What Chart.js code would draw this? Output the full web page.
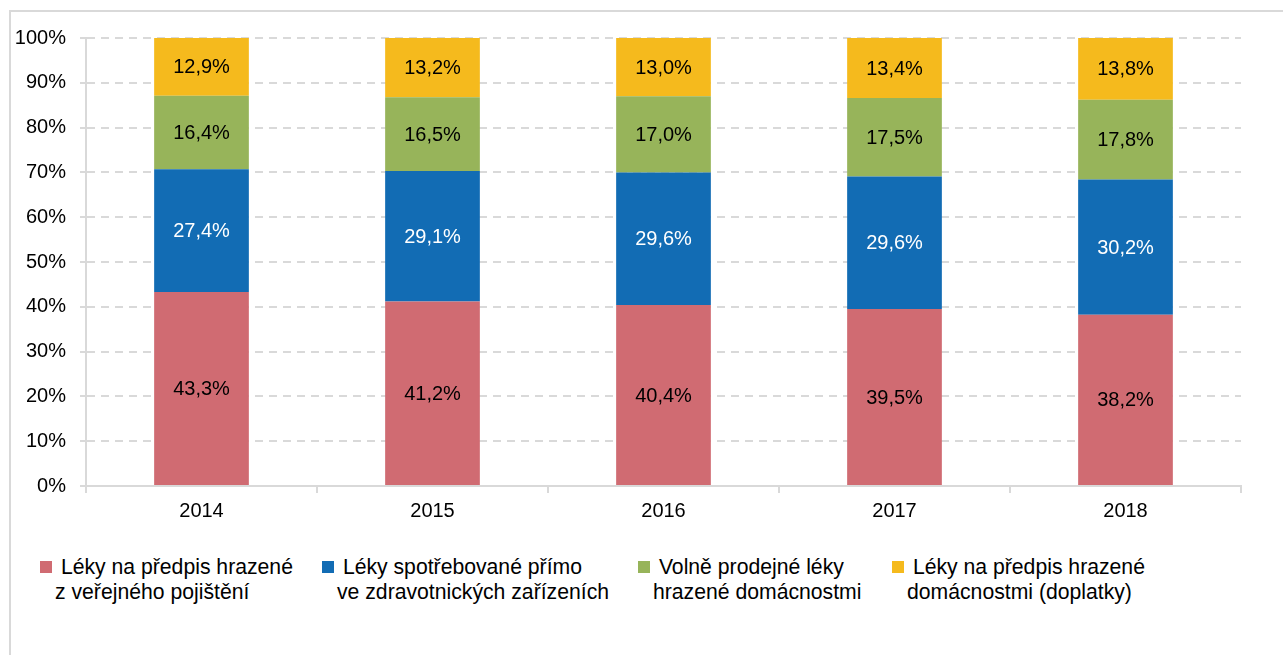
<!DOCTYPE html>
<html lang="cs">
<head>
<meta charset="utf-8">
<script src="https://cdn.jsdelivr.net/npm/chart.js@4"></script>
<style>
    body { margin: 0; background: #fff; font-family: "Liberation Sans", Arial, sans-serif; }
    #wrap { position: relative; width: 1283px; height: 655px; overflow: hidden; }
    #frame { position: absolute; left: 9px; top: 10px; width: 1320px; height: 700px; border: 2px solid #d9d9d9; }
    #chartBox { position: absolute; left: 0; top: 0; width: 1283px; height: 530px; }
    #legend { position: absolute; left: 0; top: 554px; width: 1283px; height: 60px; font-size: 21.2px; color: #000; }
    .item { position: absolute; top: 0; padding-left: 15px; line-height: 25px; white-space: nowrap; }
    .item:nth-child(1) { left: 40px; }
    .item:nth-child(2) { left: 322px; }
    .item:nth-child(3) { left: 638px; }
    .item:nth-child(4) { left: 892px; }
    .box { position: absolute; left: 0; top: 7px; width: 12px; height: 12px; }
</style>
</head>
<body>
<div id="wrap">
    <div id="frame"></div>
    <div id="chartBox"><canvas id="podilChart"></canvas></div>
    <div id="legend"></div>
</div>
<script>
const years = ["2014", "2015", "2016", "2017", "2018"];

const seriesNames = [
    ["Léky na předpis hrazené", "z veřejného pojištění"],
    ["Léky spotřebované přímo", "ve zdravotnických zařízeních"],
    ["Volně prodejné léky", "hrazené domácnostmi"],
    ["Léky na předpis hrazené", "domácnostmi (doplatky)"]
];

const verejnePojisteni = [43.3, 41.2, 40.4, 39.5, 38.2];
const zdravotnickaZarizeni = [27.4, 29.1, 29.6, 29.6, 30.2];
const volneProdejne = [16.4, 16.5, 17.0, 17.5, 17.8];
const doplatky = [12.9, 13.2, 13.0, 13.4, 13.8];

const colors = ["#d06b72", "#126cb4", "#97b45a", "#f5ba1d"];
const labelColors = ["#000", "#fff", "#000", "#000"];

const allSeries = [verejnePojisteni, zdravotnickaZarizeni, volneProdejne, doplatky];

// popisky hodnot uprostred segmentu
const valueLabels = {
    id: "valueLabels",
    afterDatasetsDraw(chart) {
        const ctx = chart.ctx;
        ctx.save();
        ctx.font = '20px "Liberation Sans", Arial, sans-serif';
        ctx.textAlign = "center";
        ctx.textBaseline = "middle";
        chart.data.datasets.forEach((ds, i) => {
            const meta = chart.getDatasetMeta(i);
            meta.data.forEach((bar, j) => {
                const p = bar.getProps(["x", "y", "base"], true);
                ctx.fillStyle = labelColors[i];
                const txt = ds.data[j].toFixed(1).replace(".", ",") + "%";
                ctx.fillText(txt, p.x, (p.y + p.base) / 2 + 1);
            });
        });
        ctx.restore();
    }
};

const ctx = document.getElementById("podilChart").getContext("2d");
new Chart(ctx, {
    type: "bar",
    data: {
        labels: years,
        datasets: allSeries.map((vals, i) => ({
            label: seriesNames[i].join(" "),
            data: vals,
            backgroundColor: colors[i],
            borderWidth: 0,
            barPercentage: 0.41,
            categoryPercentage: 1
        }))
    },
    options: {
        responsive: true,
        maintainAspectRatio: false,
        animation: false,
        layout: { padding: { top: 38, right: 42, left: 0, bottom: 0 } },
        plugins: {
            legend: { display: false },
            tooltip: { enabled: false }
        },
        scales: {
            x: {
                stacked: true,
                grid: { drawOnChartArea: false, color: "#d9d9d9", lineWidth: 2, tickLength: 7 },
                border: { color: "#d9d9d9", width: 2 },
                ticks: { color: "#000", padding: 6, font: { size: 20, family: '"Liberation Sans", Arial, sans-serif' } },
                afterFit(scale) { scale.height = 44; }
            },
            y: {
                stacked: true,
                min: 0,
                max: 100,
                grid: { color: "#d9d9d9", lineWidth: 2, tickLength: 6 },
                border: { color: "#d9d9d9", width: 2, dash: [8, 6] },
                ticks: {
                    stepSize: 10,
                    color: "#000",
                    padding: 14,
                    font: { size: 20, family: '"Liberation Sans", Arial, sans-serif' },
                    callback: v => v + "%"
                },
                afterFit(scale) { scale.width = 86; }
            }
        }
    },
    plugins: [valueLabels]
});

// legenda pod grafem
const legendEl = document.getElementById("legend");
seriesNames.forEach((lines, i) => {
    const item = document.createElement("div");
    item.className = "item";
    item.innerHTML = '<span class="box" style="background:' + colors[i] + '"></span>' +
        "&nbsp;" + lines[0] + "<br>" + lines[1];
    legendEl.appendChild(item);
});
</script>
</body>
</html>
